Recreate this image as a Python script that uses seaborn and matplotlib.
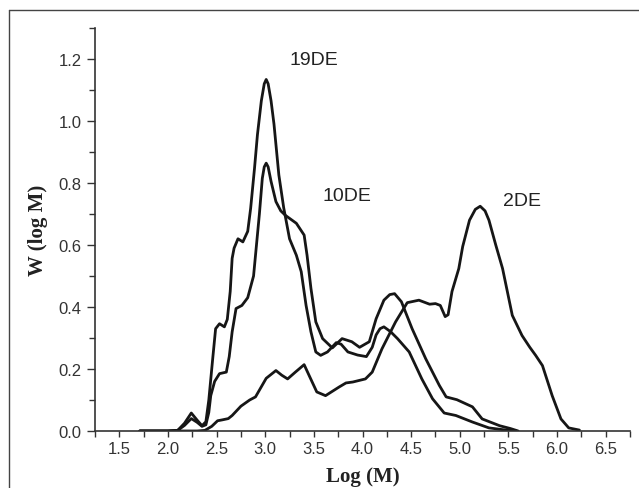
# Distribución de pesos moleculares (curvas GPC) de tres maltodextrinas
import matplotlib
matplotlib.use("Agg")
import pandas as pd
import matplotlib.pyplot as plt
from matplotlib.ticker import MultipleLocator
from matplotlib.lines import Line2D
import seaborn as sns

# -------------------------------------------------------------
# DATOS
# -------------------------------------------------------------

x_19de = [1.71, 2.00, 2.10, 2.17, 2.24, 2.30, 2.35, 2.39, 2.42, 2.46, 2.49, 2.53,
          2.58, 2.61, 2.64, 2.66, 2.68, 2.72, 2.77, 2.82, 2.85, 2.89, 2.92, 2.96,
          2.99, 3.01, 3.03, 3.06, 3.09, 3.14, 3.19, 3.25, 3.32, 3.37, 3.42, 3.47,
          3.52, 3.57, 3.64, 3.73, 3.78, 3.85, 3.95, 4.04, 4.10, 4.14, 4.18, 4.22,
          4.29, 4.36, 4.48, 4.61, 4.72, 4.84, 4.96, 5.13, 5.30, 5.45, 5.58]
y_19de = [0, 0, 0.002, 0.025, 0.058, 0.035, 0.017, 0.03, 0.10, 0.233, 0.33, 0.346,
          0.336, 0.36, 0.45, 0.557, 0.59, 0.62, 0.61, 0.644, 0.718, 0.848, 0.956, 1.065,
          1.12, 1.134, 1.12, 1.065, 0.99, 0.826, 0.72, 0.62, 0.567, 0.514, 0.405, 0.32,
          0.255, 0.244, 0.255, 0.285, 0.28, 0.255, 0.245, 0.24, 0.27, 0.31, 0.33, 0.336,
          0.32, 0.298, 0.255, 0.168, 0.104, 0.058, 0.05, 0.029, 0.01, 0.004, 0]

x_10de = [1.71, 2.00, 2.10, 2.17, 2.24, 2.30, 2.35, 2.39, 2.42, 2.44, 2.48, 2.53,
          2.60, 2.63, 2.66, 2.70, 2.76, 2.82, 2.88, 2.91, 2.94, 2.97, 2.99, 3.01,
          3.03, 3.06, 3.11, 3.16, 3.21, 3.32, 3.40, 3.43, 3.47, 3.52, 3.59, 3.69,
          3.79, 3.89, 3.97, 4.07, 4.14, 4.22, 4.28, 4.33, 4.40, 4.51, 4.65, 4.79,
          4.86, 4.97, 5.13, 5.23, 5.41, 5.52, 5.60]
y_10de = [0, 0, 0.002, 0.018, 0.04, 0.028, 0.015, 0.02, 0.06, 0.114, 0.16, 0.185,
          0.19, 0.24, 0.32, 0.395, 0.405, 0.43, 0.50, 0.60, 0.70, 0.815, 0.852, 0.864,
          0.852, 0.805, 0.74, 0.71, 0.695, 0.67, 0.632, 0.567, 0.46, 0.352, 0.298, 0.268,
          0.298, 0.288, 0.27, 0.288, 0.362, 0.422, 0.44, 0.443, 0.417, 0.33, 0.233, 0.147,
          0.11, 0.101, 0.078, 0.039, 0.017, 0.008, 0]

x_2de = [1.71, 2.00, 2.30, 2.38, 2.45, 2.51, 2.56, 2.62, 2.66, 2.75, 2.84, 2.90,
         3.01, 3.11, 3.17, 3.23, 3.31, 3.40, 3.45, 3.53, 3.62, 3.70, 3.76, 3.83,
         3.90, 4.03, 4.10, 4.20, 4.34, 4.46, 4.58, 4.69, 4.75, 4.80, 4.85, 4.88,
         4.92, 4.99, 5.03, 5.10, 5.16, 5.21, 5.26, 5.30, 5.37, 5.44, 5.54, 5.64,
         5.72, 5.78, 5.85, 5.95, 6.04, 6.12, 6.23]
y_2de = [0, 0, 0, 0.002, 0.015, 0.033, 0.036, 0.04, 0.05, 0.08, 0.10, 0.11,
         0.17, 0.195, 0.18, 0.168, 0.19, 0.214, 0.18, 0.126, 0.114, 0.13, 0.142, 0.155,
         0.158, 0.168, 0.19, 0.265, 0.352, 0.414, 0.422, 0.409, 0.411, 0.405, 0.369, 0.375,
         0.45, 0.524, 0.595, 0.68, 0.715, 0.725, 0.71, 0.68, 0.6, 0.524, 0.373, 0.308,
         0.27, 0.244, 0.211, 0.114, 0.039, 0.01, 0.003]

# etiquetas de cada curva y su posición
etiquetas = ["19DE", "10DE", "2DE"]
etiqueta_x = [3.50, 3.84, 5.64]
etiqueta_y = [1.197, 0.76, 0.744]

# -------------------------------------------------------------
# FIGURA
# -------------------------------------------------------------

sns.set_style("ticks")
plt.rcParams["font.family"] = ["Liberation Sans", "DejaVu Sans"]

fig = plt.figure(figsize=(6.39, 4.89), dpi=100)
ax = fig.add_axes([95 / 639, 57 / 489, 535 / 639, 403 / 489])

for xs, ys in [(x_19de, y_19de), (x_10de, y_10de), (x_2de, y_2de)]:
    df = pd.DataFrame({"logM": xs, "W": ys})
    sns.lineplot(data=df, x="logM", y="W", ax=ax, color="#161616",
                 linewidth=2.0, estimator=None, sort=False,
                 solid_joinstyle="round", solid_capstyle="round")

for txt, tx, ty in zip(etiquetas, etiqueta_x, etiqueta_y):
    ax.text(tx, ty, txt, ha="center", va="center", fontsize=14, color="#222222")

ax.set_xlim(1.25, 6.75)
ax.set_ylim(0, 1.3)
ax.xaxis.set_minor_locator(MultipleLocator(0.25))
ax.yaxis.set_minor_locator(MultipleLocator(0.1))
ax.set_yticks([0.0, 0.2, 0.4, 0.6, 0.8, 1.0, 1.2])
ax.set_xticks([1.5, 2.0, 2.5, 3.0, 3.5, 4.0, 4.5, 5.0, 5.5, 6.0, 6.5])
ax.tick_params(axis="both", which="major", labelsize=12, labelcolor="#333333",
               color="#333333", width=1.0)
ax.tick_params(axis="x", which="both", length=4, width=1.0, color="#333333")
ax.tick_params(axis="y", which="major", length=6)
ax.tick_params(axis="y", which="minor", length=4, width=1.0, color="#333333")

for lado in ["left", "bottom"]:
    ax.spines[lado].set_color("#333333")
    ax.spines[lado].set_linewidth(1.2)
sns.despine(ax=ax)

ax.set_xlabel("Log (M)", family=["Liberation Serif"], fontweight="bold",
              fontsize=15, color="#222222", labelpad=7)
ax.set_ylabel("W (log M)", family=["Liberation Serif"], fontweight="bold",
              fontsize=15, color="#222222", labelpad=8)

# marco exterior (sólo arriba e izquierda, como en el original)
fig.add_artist(Line2D([9 / 639, 1.0], [1 - 11 / 489, 1 - 11 / 489],
                      transform=fig.transFigure, color="#444444", linewidth=1.0))
fig.add_artist(Line2D([9 / 639, 9 / 639], [0.0, 1 - 11 / 489],
                      transform=fig.transFigure, color="#444444", linewidth=1.0))

fig.savefig("out.png", dpi=100)
